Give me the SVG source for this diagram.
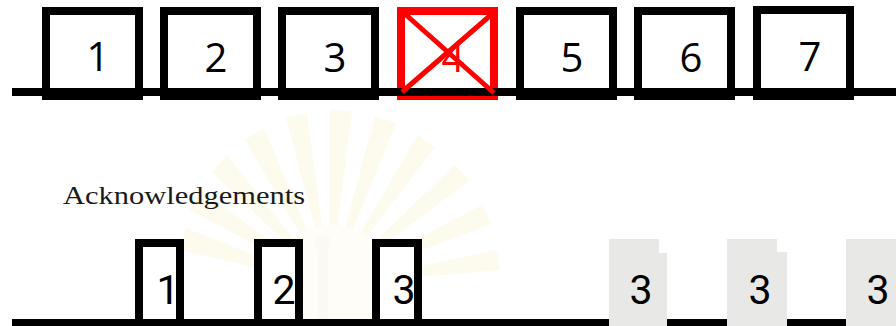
<svg xmlns="http://www.w3.org/2000/svg" width="896" height="326" viewBox="0 0 896 326">
<defs>
<style>
.bx{fill:#fff;stroke:#000;stroke-width:8}
.rbx{fill:#fff;stroke:#ff0000;stroke-width:8}
.num{font-family:"Open Sans","Noto Sans",sans-serif;font-size:40px;fill:#000;text-anchor:middle}
.num2{font-family:Roboto,"Noto Sans",sans-serif;font-size:41px;fill:#000;text-anchor:middle}
.gray{fill:#e8e8e7}
.ray{fill:#fdfaee}
</style>
</defs>
<rect width="896" height="326" fill="#fff"/>
<g id="watermark">
<g class="ray">
<path d="M330 285 L180 250 L186 228 Z"/>
<path d="M330 285 L190 210 L201 190 Z"/>
<path d="M330 285 L212 172 L227 155 Z"/>
<path d="M330 285 L245 140 L264 128 Z"/>
<path d="M330 285 L286 118 L307 113 Z"/>
<path d="M330 285 L330 110 L352 111 Z"/>
<path d="M330 285 L375 116 L396 123 Z"/>
<path d="M330 285 L418 135 L435 147 Z"/>
<path d="M330 285 L455 165 L469 181 Z"/>
<path d="M330 285 L482 205 L491 224 Z"/>
<path d="M330 285 L497 250 L500 270 Z"/>
</g>
<circle cx="330" cy="285" r="60" fill="#fefdf8"/>
<rect x="318" y="245" width="10" height="75" fill="#fbf9f1"/>
<circle cx="323" cy="243" r="8" fill="#fbf9f1"/>
</g>
<g id="top-row">
<g id="box1"><rect class="bx" x="46" y="11" width="93" height="85"/><text class="num" x="98" y="71">1</text></g>
<g id="box2"><rect class="bx" x="164" y="11" width="93" height="85"/><text class="num" x="216" y="72">2</text></g>
<g id="box3"><rect class="bx" x="282" y="11" width="93" height="85"/><text class="num" x="335" y="72">3</text></g>
<g id="box4"><rect class="rbx" x="401" y="11" width="93" height="85"/><text class="num" x="453" y="72" style="fill:#ff0000">4</text></g>
<g id="box5"><rect class="bx" x="520" y="11" width="93" height="85"/><text class="num" x="572" y="72">5</text></g>
<g id="box6"><rect class="bx" x="638" y="11" width="93" height="85"/><text class="num" x="691" y="72">6</text></g>
<g id="box7"><rect class="bx" x="757" y="10" width="93" height="86"/><text class="num" x="810" y="71">7</text></g>
</g>
<g id="connectors">
<rect x="12" y="88" width="884" height="8" fill="#000"/>
<line x1="405" y1="14" x2="494" y2="93" stroke="#ff0000" stroke-width="5"/>
<line x1="492" y1="14" x2="402" y2="92" stroke="#ff0000" stroke-width="5"/>
<rect x="12" y="319" width="884" height="7" fill="#000"/>
</g>
<text x="63" y="204" font-family="'Liberation Serif',serif" font-size="26" fill="#1a1a1a" textLength="242" lengthAdjust="spacingAndGlyphs">Acknowledgements</text>
<g id="bottom-row">
<g id="b1"><rect class="bx" x="139" y="243" width="41" height="80"/><text class="num2" x="168" y="304">1</text></g>
<g id="b2"><rect class="bx" x="258" y="243" width="41" height="80"/><text class="num2" x="284" y="304">2</text></g>
<g id="b3"><rect class="bx" x="376" y="243" width="42" height="80"/><text class="num2" x="404" y="304">3</text></g>
<g id="g1"><path class="gray" d="M609 239 H659 V253 H667 V326 H609 Z"/><text class="num2" x="641" y="304">3</text></g>
<g id="g2"><path class="gray" d="M727 239 H777 V252 H787 V326 H727 Z"/><text class="num2" x="760" y="304">3</text></g>
<g id="g3"><rect class="gray" x="846" y="239" width="50" height="87"/><text class="num2" x="878" y="304">3</text></g>
</g>
</svg>
